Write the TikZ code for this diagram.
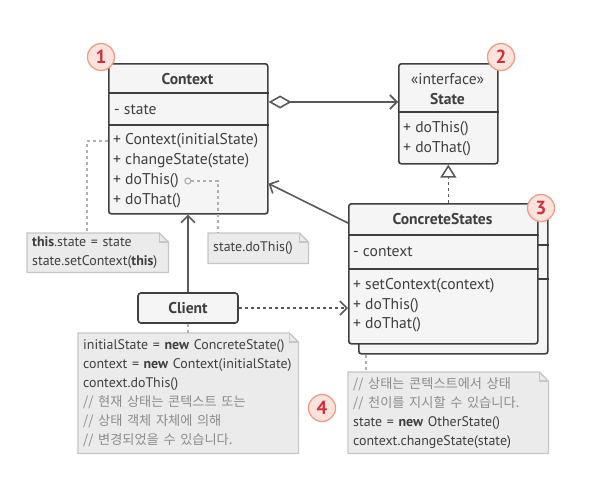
\documentclass[tikz,border=0pt]{standalone}
\usepackage{fontspec}
\setmainfont{PT Sans}
\newfontfamily\krfont{Noto Sans CJK KR}
\usetikzlibrary{positioning,arrows.meta,calc,backgrounds}
\definecolor{Ink}{HTML}{3F3F3F}
\definecolor{BoxFill}{HTML}{F5F5F5}
\definecolor{Wire}{HTML}{5A5A5A}
\definecolor{NoteFill}{HTML}{EBEBEB}
\definecolor{NoteLine}{HTML}{C6C6C6}
\definecolor{Hint}{HTML}{B0B0B0}
\definecolor{Remark}{HTML}{8C8C8C}
\definecolor{BadgeFill}{HTML}{FDE3DB}
\definecolor{BadgeLine}{HTML}{F29C86}
\definecolor{BadgeText}{HTML}{D12E3C}
% folded paper behind a note node
\newcommand\paper[1]{%
  \begin{scope}[on background layer]
    \draw[notebox] (#1.north west) -- ($(#1.north east)+(-9,0)$)
      -- ($(#1.north east)+(0,9)$) -- (#1.south east) -- (#1.south west) -- cycle;
    \draw[notebox, fill=none] ($(#1.north east)+(-9,0)$) |- ($(#1.north east)+(0,9)$);
  \end{scope}}
\newcommand\remark[1]{\mbox{\color{Remark}\krfont\fontsize{13.2}{19}\selectfont #1}}

\begin{document}
\begin{tikzpicture}[x=1pt, y=-1pt,
  classbox/.style={draw=Ink, fill=BoxFill, line width=1.6pt, rounded corners=2.5pt,
    anchor=north west, inner sep=0pt},
  sep/.style={draw=Ink, line width=1.6pt},
  member/.style={anchor=west, inner sep=0pt, font=\fontsize{15.6}{18}\selectfont, text=Ink},
  ctitle/.style={inner sep=0pt, font=\fontsize{15.6}{18}\selectfont\bfseries, text=Ink},
  wire/.style={draw=Wire, line width=1.6pt},
  barb/.style={-{Straight Barb[length=7pt,width=14pt]}},
  hint/.style={draw=Hint, line width=1.2pt, dash pattern=on 3pt off 3pt},
  notebox/.style={draw=NoteLine, fill=NoteFill, line width=1.3pt},
  notetext/.style={anchor=north west, inner xsep=5pt, inner ysep=0pt, align=left,
    font=\fontsize{13.9}{19}\selectfont, text=Ink},
  badge/.style={circle, draw=BadgeLine, fill=BadgeFill, line width=1.3pt, minimum size=27pt,
    inner sep=0pt, text=BadgeText, font=\fontsize{19}{19}\selectfont\bfseries}]
  \useasboundingbox (0,0) rectangle (612,490);

  % Context
  \node[classbox, minimum width=159, minimum height=150] (ctx) at (108,63) {};
  \draw[sep] ($(ctx.north west)+(0,30)$) -- ($(ctx.north east)+(0,30)$);
  \draw[sep] ($(ctx.north west)+(0,62)$) -- ($(ctx.north east)+(0,62)$);
  \node[ctitle] (ctxname) at (187.5,79) {Context};
  \node[member] (ctxattr) at (114,110) {- state};
  \foreach \t [count=\i] in {{+ Context(initialState)},{+ changeState(state)},{+ doThis()},{+ doThat()}}
    \node[member] (ctxm\i) at (113,121+20*\i) {\t};

  % State
  \node[classbox, minimum width=99, minimum height=100] (st) at (398,63) {};
  \draw[sep] ($(st.north west)+(0,49)$) -- ($(st.north east)+(0,49)$);
  \node[member, anchor=center] (stkind) at (447.5,79) {«interface»};
  \node[ctitle] (stname) at (447.5,99) {State};
  \node[member] (stm1) at (403,129) {+ doThis()};
  \node[member] (stm2) at (403,148.5) {+ doThat()};

  % ConcreteStates, with one copy stacked behind
  \node[classbox, minimum width=189, minimum height=140] (csback) at (358,213) {};
  \draw[sep] ($(csback.north west)+(0,32)$) -- ($(csback.north east)+(0,32)$);
  \draw[sep] ($(csback.north west)+(0,66)$) -- ($(csback.north east)+(0,66)$);
  \node[classbox, minimum width=189, minimum height=140] (cs) at (348,203) {};
  \draw[sep] ($(cs.north west)+(0,32)$) -- ($(cs.north east)+(0,32)$);
  \draw[sep] ($(cs.north west)+(0,66)$) -- ($(cs.north east)+(0,66)$);
  \node[ctitle] (csname) at (442.5,219) {ConcreteStates};
  \node[member] (csattr) at (353,252) {- context};
  \node[member] (csm1) at (353,286) {+ setContext(context)};
  \node[member] (csm2) at (353,305.5) {+ doThis()};
  \node[member] (csm3) at (353,325) {+ doThat()};

  % Client
  \node[draw=Ink, fill=BoxFill, line width=1.6pt, rounded corners=3pt, minimum width=100,
    minimum height=30, inner sep=0pt, font=\fontsize{15.6}{18}\selectfont\bfseries, text=Ink]
    (cl) at (188,308) {Client};

  % relations
  \draw[wire, {Diamond[open,length=23pt,width=13pt]}-{Straight Barb[length=7pt,width=14pt]}]
    ($(ctx.north east)+(0,39)$) -- ($(st.north west)+(0,39)$);
  \draw[wire, dashed, -{Triangle[open,length=13pt,width=16pt]}]
    (st.south |- cs.north) -- (st.south);
  \draw[wire, barb] ($(cs.north west)+(0,20)$) -- ($(ctx.south east)+(0,-31)$);
  \draw[wire, barb] (cl) -- (cl |- ctx.south);
  \draw[wire, barb, dashed] (cl.east) -- (cl.east -| cs.west);

  % notes
  \node[notetext, text width=131, minimum height=39] (n1) at (27,233)
    {\textbf{this}.state = state\\\mbox{state.setContext(\textbf{this})}};
  \paper{n1}
  \node[notetext, text width=90, minimum height=30] (n2) at (208,233) {state.doThis()};
  \paper{n2}
  \node[notetext, text width=210, minimum height=120] (n3) at (78,333)
    {\mbox{initialState = \textbf{new} ConcreteState()}\\
     \mbox{context = \textbf{new} Context(initialState)}\\
     context.doThis()\\
     \remark{// 현재 상태는 콘텍스트 또는}\\
     \remark{// 상태 객체 자체에 의해}\\
     \remark{// 변경되었을 수 있습니다.}};
  \paper{n3}
  \node[notetext, text width=190, minimum height=81] (n4) at (348,372)
    {\remark{// 상태는 콘텍스트에서 상태}\\
     \remark{// 천이를 지시할 수 있습니다.}\\
     \mbox{state = \textbf{new} OtherState()}\\
     \mbox{context.changeState(state)}};
  \paper{n4}

  % note links
  \draw[hint] (ctx.west |- ctxm1) -| ($(n1.north west)+(60,0)$);
  \node[circle, draw=Hint, line width=1.2pt, inner sep=0pt, minimum size=6pt] (dot)
    at ($(ctxm3.east)+(9,0)$) {};
  \draw[hint] (dot) -| ($(n2.north west)+(10,0)$);
  \draw[hint] (cl.south) -- (cl.south |- n3.north);
  \draw[hint] ($(csback.south west)+(8,0)$) -- ($(n4.north west)+(18,0)$);

  % badges
  \node[badge] (b1) at (101,57) {1};
  \node[badge] (b2) at (501,57) {2};
  \node[badge] (b3) at (541,208) {3};
  \node[badge] (b4) at (322,408) {4};
\end{tikzpicture}
\end{document}
